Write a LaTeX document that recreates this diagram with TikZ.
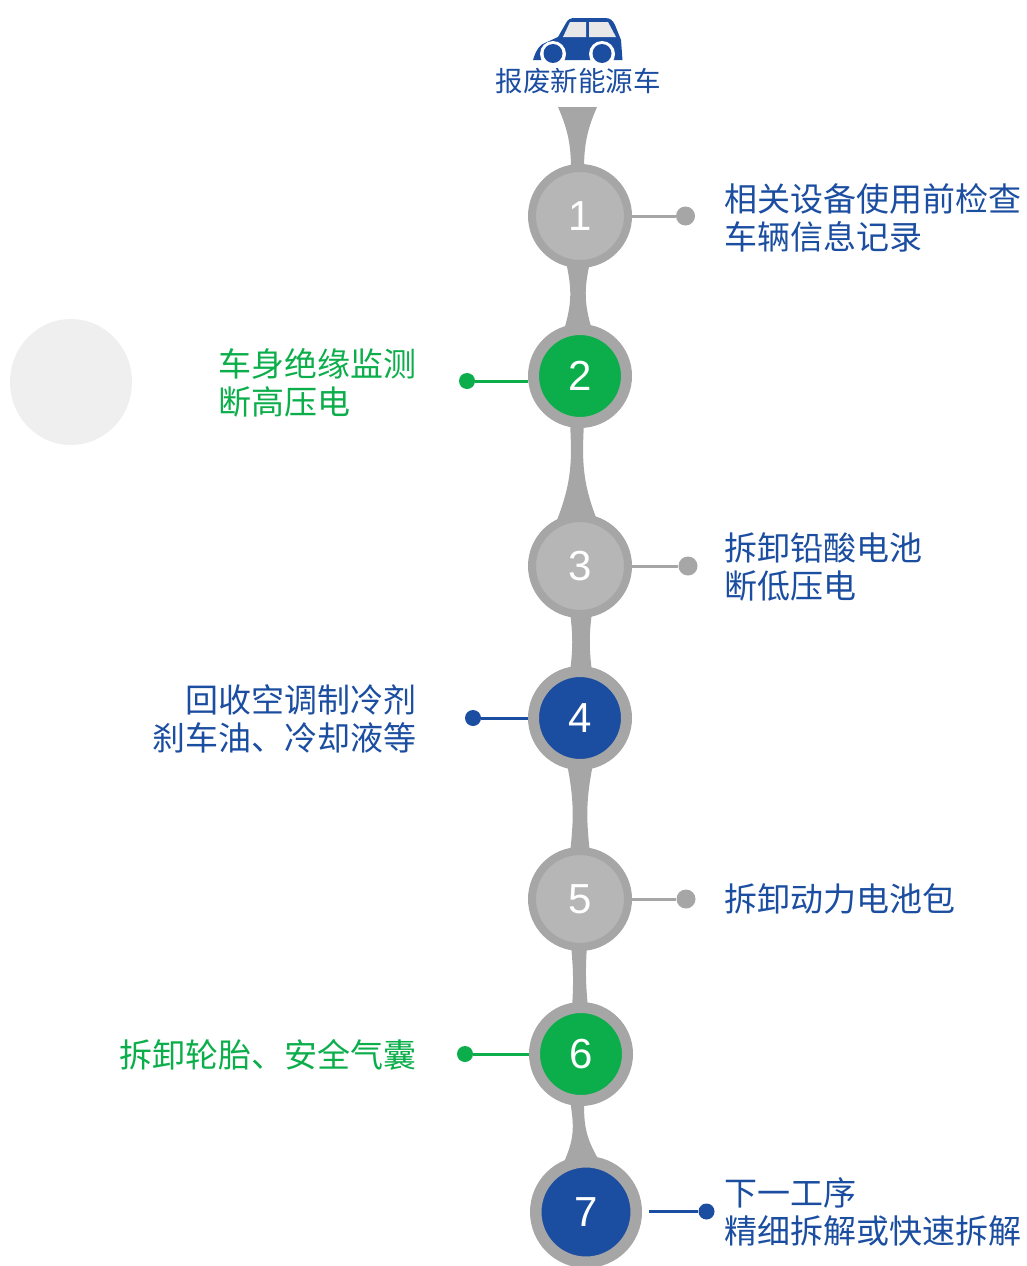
\documentclass[tikz,border=0pt]{standalone}
\usepackage{fontspec}
\usetikzlibrary{calc}
\setmainfont{Liberation Sans}
\newfontfamily\cjk{Noto Sans CJK SC}
\definecolor{bluec}{HTML}{1B4DA0}
\definecolor{greenc}{HTML}{0BAE4A}
\definecolor{ringc}{HTML}{A6A6A6}
\definecolor{innerc}{HTML}{B6B6B6}
\definecolor{softc}{HTML}{EFEFEF}
\definecolor{winc}{HTML}{E8E8E8}
\tikzset{
  stepnum/.style={circle,font=\fontsize{42}{42}\selectfont,text=white,draw=ringc,inner sep=0pt},
  graystep/.style={stepnum,fill=innerc,line width=8pt,minimum size=96pt},
  greenstep/.style={stepnum,fill=greenc,line width=11pt,minimum size=93pt},
  bluestep/.style={stepnum,fill=bluec,line width=11pt,minimum size=93pt},
  lab/.style={font=\cjk\fontsize{33}{38.5}\selectfont,inner sep=0pt},
  rightlab/.style={lab,anchor=west,align=left,text=bluec},
  leftlab/.style={lab,anchor=east,align=right},
  dot/.style={circle,inner sep=0pt,minimum size=#1},
  lead/.style={line width=3pt}
}
\newcommand{\neck}[6]{%
  \fill[ringc] ($(#1.south)+(#6-#3,-6)$)
    .. controls ($(#1.south)!.38!(#2.north)+(#6-#4,0)$) and ($(#1.south)!.62!(#2.north)+(#6-#4,0)$) .. ($(#2.north)+(#6-#5,6)$)
    -- ($(#2.north)+(#6+#5,6)$)
    .. controls ($(#1.south)!.62!(#2.north)+(#6+#4,0)$) and ($(#1.south)!.38!(#2.north)+(#6+#4,0)$) .. ($(#1.south)+(#6+#3,-6)$)
    -- cycle;}
\begin{document}
\begin{tikzpicture}[x=1pt,y=-1pt]
\useasboundingbox (0,0) rectangle (1027,1266);
\clip (0,0) rectangle (1027,1266);
% soft disc
\fill[softc] (71,382) ellipse [x radius=61,y radius=63];
% car
\fill[bluec] (533,60) .. controls (536,50) and (540,44) .. (547,42) -- (558,37) -- (566,23)
  .. controls (568,19) and (571,18) .. (575,18) -- (605,18) .. controls (611,18) and (613,21) .. (615,25)
  -- (621,40) -- (622.5,60) -- cycle;
\fill[winc] (563,37) -- (570,22) -- (586,22) -- (586,37) -- cycle;
\fill[winc] (589,22) -- (608,22) -- (616,37) -- (589,37) -- cycle;
\fill[white] (553,54) circle [radius=13];
\fill[white] (602,54) circle [radius=13];
\fill[bluec] (553,53.5) circle [radius=9.5];
\fill[bluec] (602,53.5) circle [radius=9.5];
% title
\node[lab,font=\cjk\fontsize{27.5}{30}\selectfont,text=bluec] (title) at (578,81) {报废新能源车};
% step nodes
\node[graystep]  (n1) at (580,216) {1};
\node[greenstep] (n2) at (580,376) {2};
\node[graystep]  (n3) at (580,566) {3};
\node[bluestep]  (n4) at (580,718) {4};
\node[graystep]  (n5) at (580,899) {5};
\node[greenstep] (n6) at (581,1054) {6};
\node[bluestep,line width=11.5pt,minimum size=100.5pt] (n7) at (586,1212) {7};
% necks
\coordinate (top) at (577.5,107);
\fill[ringc] ($(top)+(-19.5,0)$) .. controls (568,130) and (571,145) .. (571,170)
  -- (584,170) .. controls (584,145) and (587,130) .. ($(top)+(19.5,0)$) -- cycle;
\neck{n1}{n2}{12}{6}{14}{-2}
\neck{n2}{n3}{7}{5}{20}{-3}
\neck{n3}{n4}{11}{8}{11}{1}
\neck{n4}{n5}{13}{6}{10}{0}
\neck{n5}{n6}{8}{6}{8}{-1}
\neck{n6}{n7}{7}{5}{18}{-4}
% dots and leaders
\node[dot=19pt,fill=ringc] (d1) at (685.5,216) {};
\draw[lead,ringc] (n1.east) -- (d1);
\node[dot=19pt,fill=ringc] (d3) at (688,566) {};
\draw[lead,ringc] (n3.east) -- (d3);
\node[dot=19pt,fill=ringc] (d5) at (686,899) {};
\draw[lead,ringc] (n5.east) -- (d5);
\node[dot=16pt,fill=greenc] (d2) at (467,381) {};
\draw[lead,greenc] (d2) -- (d2 -| n2.west);
\node[dot=16pt,fill=bluec] (d4) at (473,718) {};
\draw[lead,bluec] (d4) -- (n4.west);
\node[dot=16pt,fill=greenc] (d6) at (465,1054) {};
\draw[lead,greenc] (d6) -- (n6.west);
\node[dot=16pt,fill=bluec] (d7) at (706.5,1211.5) {};
\coordinate (c7) at (649,1211.5);
\draw[lead,bluec] (c7) -- (d7);
% labels
\node[rightlab] (t1) at (724.5,218) {相关设备使用前检查\\车辆信息记录};
\node[lab,anchor=east,align=left,text=greenc] (t2) at (416.5,383) {车身绝缘监测\\断高压电};
\node[rightlab] (t3) at (724.5,567) {拆卸铅酸电池\\断低压电};
\node[leftlab,text=bluec] (t4) at (416.5,719) {回收空调制冷剂\\刹车油、冷却液等};
\node[rightlab] (t5) at (724.5,899) {拆卸动力电池包};
\node[leftlab,text=greenc] (t6) at (416.5,1054.5) {拆卸轮胎、安全气囊};
\node[rightlab] (t7) at (724.5,1212) {下一工序\\精细拆解或快速拆解};
\end{tikzpicture}
\end{document}
